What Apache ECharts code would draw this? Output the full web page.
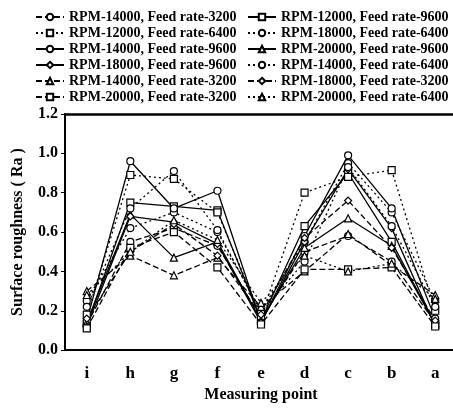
<!DOCTYPE html>
<html>
<head>
<meta charset="utf-8">
<script src="https://cdn.jsdelivr.net/npm/echarts@6/dist/echarts.min.js"></script>
<style>
  html, body { margin: 0; padding: 0; background: #fff; overflow: hidden; }
  #chart { width: 460px; height: 408px; }
</style>
</head>
<body>
<div id="chart"></div>
<script>
const points = ['i', 'h', 'g', 'f', 'e', 'd', 'c', 'b', 'a']
const yTicks = [0, 0.2, 0.4, 0.6, 0.8, 1.0, 1.2]

// values, order i..a
const s14k3200 = [0.13, 0.55, 0.62, 0.53, 0.16, 0.50, 0.58, 0.45, 0.14]
const s12k9600 = [0.13, 0.75, 0.73, 0.71, 0.15, 0.63, 0.90, 0.55, 0.13]
const s12k6400 = [0.18, 0.89, 0.87, 0.70, 0.17, 0.80, 0.88, 0.915, 0.20]
const s18k6400 = [0.25, 0.62, 0.70, 0.60, 0.20, 0.55, 0.95, 0.70, 0.25]
const s14k9600 = [0.15, 0.96, 0.72, 0.81, 0.14, 0.58, 0.99, 0.72, 0.16]
const s20k9600 = [0.14, 0.69, 0.47, 0.55, 0.15, 0.52, 0.67, 0.53, 0.13]
const s18k9600 = [0.12, 0.68, 0.65, 0.54, 0.14, 0.55, 0.92, 0.62, 0.12]
const s14k6400 = [0.22, 0.72, 0.91, 0.61, 0.19, 0.45, 0.93, 0.63, 0.22]
const s14k3200b = [0.30, 0.48, 0.38, 0.47, 0.22, 0.40, 0.59, 0.43, 0.28]
const s18k3200 = [0.16, 0.50, 0.64, 0.48, 0.18, 0.57, 0.76, 0.52, 0.15]
const s20k3200 = [0.11, 0.52, 0.60, 0.42, 0.13, 0.41, 0.41, 0.42, 0.12]
const s20k6400 = [0.28, 0.50, 0.66, 0.56, 0.24, 0.48, 0.40, 0.44, 0.26]

const DASH = [6, 3]
const DOT = [2, 3]
const font = 'Liberation Serif'

// name, data, line type, symbol
const defs = [
  ['RPM-14000, Feed rate-3200', s14k3200, DASH, 'circle'],
  ['RPM-12000, Feed rate-9600', s12k9600, 'solid', 'rect'],
  ['RPM-12000, Feed rate-6400', s12k6400, DOT, 'rect'],
  ['RPM-18000, Feed rate-6400', s18k6400, DOT, 'circle'],
  ['RPM-14000, Feed rate-9600', s14k9600, 'solid', 'circle'],
  ['RPM-20000, Feed rate-9600', s20k9600, 'solid', 'triangle'],
  ['RPM-18000, Feed rate-9600', s18k9600, 'solid', 'diamond'],
  ['RPM-14000, Feed rate-6400', s14k6400, DOT, 'circle'],
  ['RPM-14000, Feed rate-3200 ', s14k3200b, DASH, 'triangle'],
  ['RPM-18000, Feed rate-3200', s18k3200, DASH, 'diamond'],
  ['RPM-20000, Feed rate-3200', s20k3200, DASH, 'rect'],
  ['RPM-20000, Feed rate-6400', s20k6400, DOT, 'triangle']
]

const series = defs.map(([name, data, type, symbol]) => ({
  name,
  type: 'line',
  data,
  symbol,
  symbolSize: 7,
  lineStyle: { color: '#000', width: 1.3, type },
  itemStyle: { color: '#fff', borderColor: '#000', borderWidth: 1.2 },
  animation: false
}))

const legendBase = {
  orient: 'vertical',
  top: 5,
  itemWidth: 28,
  itemHeight: 8,
  itemGap: 2,
  textStyle: { fontFamily: font, fontWeight: 'bold', fontSize: 14, color: '#000' }
}

const axisFont = { fontFamily: font, fontWeight: 'bold', fontSize: 16, color: '#000' }

const chart = echarts.init(document.getElementById('chart'))
chart.setOption({
  backgroundColor: '#fff',
  legend: [
    { ...legendBase, left: 30, data: defs.filter((d, i) => i % 2 === 0).map(d => d[0]) },
    { ...legendBase, left: 242, data: defs.filter((d, i) => i % 2 === 1).map(d => d[0]) }
  ],
  grid: { left: 65, top: 114, right: 3, height: 245 },
  xAxis: [{
    type: 'category',
    data: points,
    name: 'Measuring point',
    nameLocation: 'middle',
    nameGap: 36,
    nameTextStyle: axisFont,
    axisLine: { lineStyle: { color: '#000', width: 2 } },
    axisTick: { inside: true, length: 4, lineStyle: { color: '#000' } },
    axisLabel: { ...axisFont, fontSize: 17, margin: 15 }
  }, {
    // top frame line
    type: 'category',
    position: 'top',
    data: points,
    axisLine: { lineStyle: { color: '#000', width: 2.5 } },
    axisTick: { show: false },
    axisLabel: { show: false }
  }],
  yAxis: {
    type: 'value',
    min: yTicks[0],
    max: yTicks[yTicks.length - 1],
    interval: 0.2,
    name: 'Surface roughness ( Ra )',
    nameLocation: 'middle',
    nameGap: 39,
    nameTextStyle: axisFont,
    splitLine: { show: false },
    axisLine: { show: true, lineStyle: { color: '#000', width: 2 } },
    axisTick: { show: true, length: 4, lineStyle: { color: '#000' } },
    axisLabel: { ...axisFont, margin: 7, formatter: v => v.toFixed(1) }
  },
  series
})
</script>
</body>
</html>
